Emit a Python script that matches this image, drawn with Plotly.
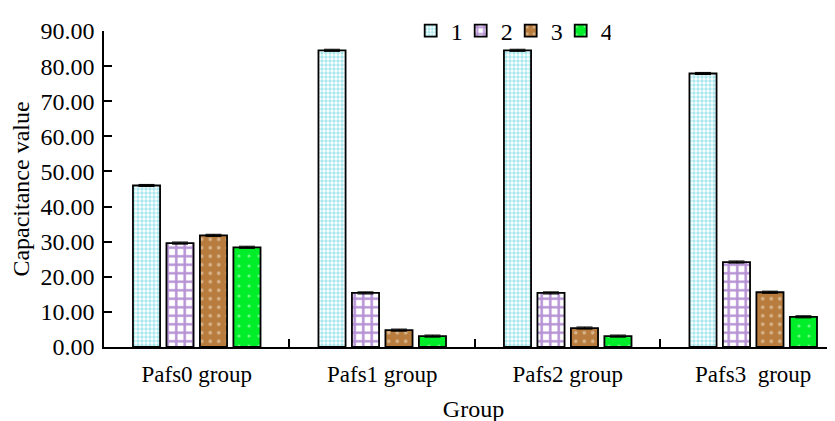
import plotly.graph_objects as go

categories = ["Pafs0 group", "Pafs1 group", "Pafs2 group", "Pafs3  group"]
series_names = ["1", "2", "3", "4"]
values_1 = [46.0, 84.5, 84.5, 77.9]
values_2 = [29.6, 15.4, 15.4, 24.2]
values_3 = [31.8, 4.8, 5.4, 15.6]
values_4 = [28.4, 3.1, 3.1, 8.6]
errors = [0.3, 0.3, 0.3, 0.3]

styles = [
    dict(shape=".", bgcolor="#ffffff", fgcolor="#4fcfdc", size=4, solidity=0.55),
    dict(shape="+", bgcolor="#ffffff", fgcolor="#6c24aa", size=8.5, solidity=0.5),
    dict(shape=".", bgcolor="#b87d3e", fgcolor="#f6e8d6", size=8.5, solidity=0.14),
    dict(shape=".", bgcolor="#00ee2a", fgcolor="#d6ffdc", size=10, solidity=0.08),
]

fig = go.Figure()
for name, vals, st in zip(series_names, [values_1, values_2, values_3, values_4], styles):
    fig.add_trace(go.Bar(
        x=categories, y=vals, name=name,
        marker=dict(color=st["bgcolor"], line=dict(color="black", width=1.8), pattern=st),
        error_y=dict(type="data", array=errors, color="black", thickness=1, width=8),
    ))

font = "Liberation Serif, Times New Roman, serif"
fig.update_layout(
    width=835, height=421,
    margin=dict(l=96, r=0, t=14, b=82),
    paper_bgcolor="white", plot_bgcolor="white",
    barmode="group", bargap=0.278, bargroupgap=0.19,
    font=dict(family=font, color="black", size=22),
    showlegend=True,
    legend=dict(orientation="h", x=0.415, xanchor="left", y=1.0, yanchor="middle",
                font=dict(size=24), bgcolor="rgba(0,0,0,0)", itemwidth=30,
                entrywidth=5, entrywidthmode="pixels"),
    xaxis=dict(range=[-0.5, 3.484], showline=True, linecolor="black", linewidth=1.5,
               ticks="inside", ticklen=8, tickwidth=1.5, tickcolor="black",
               tickson="boundaries", showgrid=False, zeroline=False, automargin=False,
               tickfont=dict(size=23), ticklabelstandoff=6,
               title=dict(text="Group", font=dict(size=24), standoff=14)),
    yaxis=dict(range=[0, 90], dtick=10, tickformat=".2f", showline=True,
               linecolor="black", linewidth=1.5, ticks="inside", ticklen=8,
               tickwidth=1.5, tickcolor="black", showgrid=False, zeroline=False,
               automargin=False, tickfont=dict(size=24), ticklabelstandoff=3,
               title=dict(text="Capacitance value", font=dict(size=24), standoff=9)),
)

fig.write_html("out.html")
